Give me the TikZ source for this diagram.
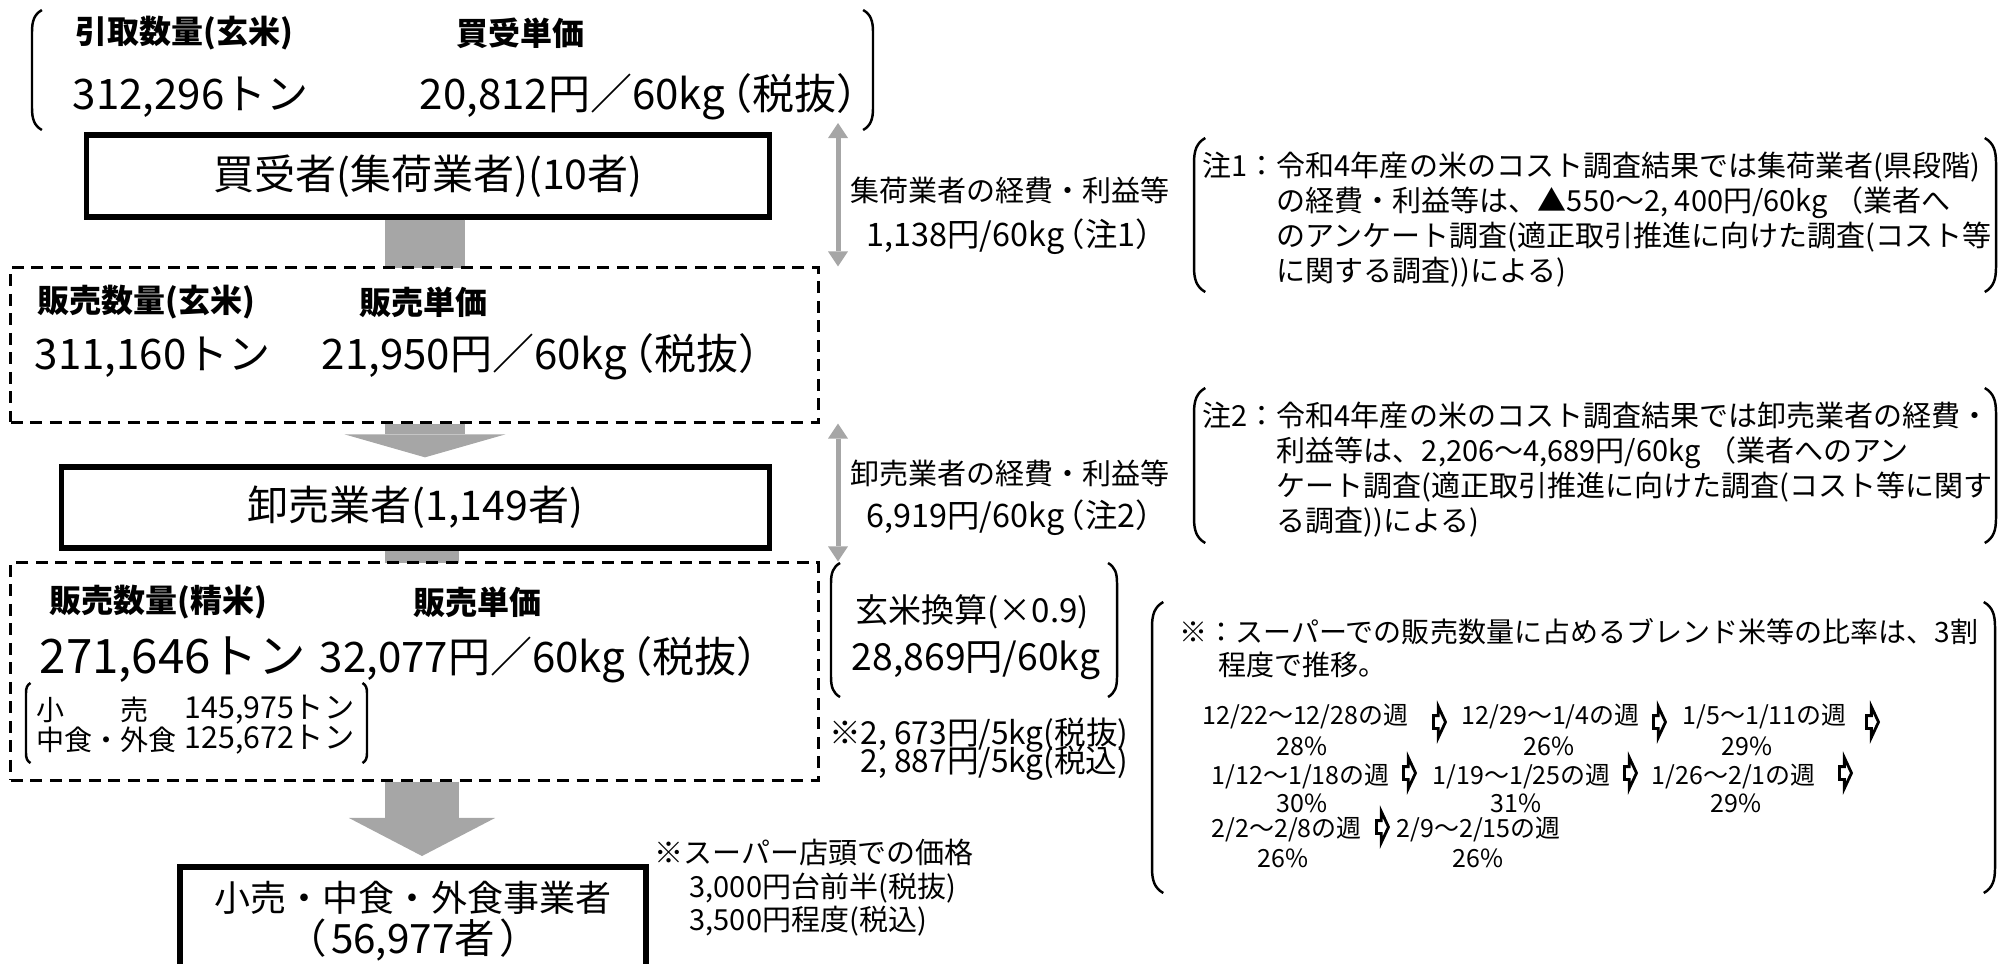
\documentclass[tikz,border=0pt]{standalone}
\usepackage{fontspec}
\setmainfont{Noto Sans CJK JP}
\usetikzlibrary{arrows.meta,shapes.arrows}

\definecolor{flowgray}{HTML}{A6A6A6}

% left and right round brackets: left, top, right, bottom, curl
\newcommand{\parenpair}[5]{%
  \draw[brkt] (#1+#5*0.45,#2) .. controls (#1+#5*0.1,#2+#5*0.2) and (#1,#2+#5*0.5) .. (#1,#2+#5)
    -- (#1,#4-#5) .. controls (#1,#4-#5*0.5) and (#1+#5*0.1,#4-#5*0.2) .. (#1+#5*0.45,#4);
  \draw[brkt] (#3-#5*0.45,#2) .. controls (#3-#5*0.1,#2+#5*0.2) and (#3,#2+#5*0.5) .. (#3,#2+#5)
    -- (#3,#4-#5) .. controls (#3,#4-#5*0.5) and (#3-#5*0.1,#4-#5*0.2) .. (#3-#5*0.45,#4);
}
% tight full width brackets
\newcommand{\tightpar}[1]{\kern-0.35em（#1）}

\tikzset{
  hdr/.style={anchor=west, inner sep=0pt, font=\bfseries\fontsize{9.1}{11}\selectfont},
  qty/.style={anchor=west, inner sep=0pt, font=\fontsize{11.95}{14}\selectfont},
  mainbox/.style={draw, line width=1.5pt, inner sep=0pt, font=\fontsize{11.66}{14}\selectfont},
  dashbox/.style={draw, fill=white, line width=0.85pt, dash pattern=on 0.12cm off 0.075cm, inner sep=0pt},
  side/.style={anchor=west, inner sep=0pt, font=\fontsize{8.25}{9.96}\selectfont},
  note/.style={side, align=left},
  inner/.style={inner sep=0pt, font=\fontsize{7.97}{9}\selectfont},
  week/.style={anchor=west, inner sep=0pt, font=\fontsize{7.11}{8.5}\selectfont},
  pct/.style={inner sep=0pt, font=\fontsize{7.11}{8.5}\selectfont},
  brkt/.style={line width=0.7pt},
  shaft/.style={draw=flowgray, line width=0.8cm},
  biarrow/.style={draw=flowgray, line width=0.05cm, >={Triangle[width=0.2cm,length=0.15cm,line width=0pt]}, <->},
  wkarrow/.style={single arrow, draw, fill=white, line width=0.8pt, inner xsep=0pt, inner ysep=0.05cm,
    minimum width=0.28cm, minimum height=0.12cm, single arrow head extend=0.09cm, single arrow tip angle=130}
}

\begin{document}
\begin{tikzpicture}[x=0.01cm, y=-0.01cm]
  \useasboundingbox (0,0) rectangle (2013,963);

  % purchase
  \parenpair{32}{10}{873}{130}{22}
  \node[hdr] (takeq) at (75,33) {引取数量(玄米)};
  \node[hdr] (takep) at (456,33) {買受単価};
  \node[qty] (takeqv) at (72,97) {312,296トン};
  \node[qty] (takepv) at (419,97) {20,812円／60kg\tightpar{税抜}};

  \node[mainbox, minimum width=6.82cm, minimum height=0.82cm] (buyer) at (428,176) {買受者(集荷業者)(10者)};

  % flow, drawn under the boxes
  \coordinate (fx) at (425,0);
  \coordinate (gx) at (422,0);
  \coordinate (cx) at (838,123);
  \draw[shaft] (fx |- buyer.south) -- (fx |- 0,268);
  \draw[shaft, line width=0.73cm] (gx |- 0,548) -- (gx |- 0,563);

  \node[dashbox, minimum width=8.07cm, minimum height=1.54cm] (sale1) at (414.5,345) {};
  \node[hdr] (sale1q) at (37,302) {販売数量(玄米)};
  \node[hdr] (sale1p) at (359,302) {販売単価};
  \node[qty] (sale1qv) at (34,357) {311,160トン};
  \node[qty] (sale1pv) at (321,357) {21,950円／60kg\tightpar{税抜}};

  \node[mainbox, minimum width=7.07cm, minimum height=0.81cm] (whole) at (415.5,507.5) {卸売業者(1,149者)};

  \node[dashbox, minimum width=8.07cm, minimum height=2.17cm] (sale2) at (414.5,671.5) {};
  \node[hdr] (sale2q) at (49,602) {販売数量(精米)};
  \node[hdr] (sale2p) at (413,602) {販売単価};
  \node[qty, font=\fontsize{13.5}{15}\selectfont] (sale2qv) at (39,660) {271,646トン};
  \node[qty] (sale2pv) at (319,660) {32,077円／60kg\tightpar{税抜}};
  \parenpair{26}{683}{367}{763}{10}
  \node[inner, anchor=west] (retq) at (36,710) {小　　売};
  \node[inner, anchor=east, font=\fontsize{8.6}{9}\selectfont] (retqv) at (355,710) {145,975トン};
  \node[inner, anchor=west] (foodq) at (36,740) {中食・外食};
  \node[inner, anchor=east, font=\fontsize{8.6}{9}\selectfont] (foodqv) at (355,740) {125,672トン};

  \node[draw, line width=1.7pt, inner sep=0pt, minimum width=4.66cm, minimum height=1.08cm, anchor=north,
    align=center, font=\fontsize{10.24}{11.95}\selectfont] (retail) at (413,864)
    {小売・中食・外食事業者\\{\fontsize{11.5}{11.95}\selectfont（\kern0.1em 56,977者\kern0.1em）}};

  \draw[shaft, -{Triangle[width=1.61cm,length=0.23cm,line width=0pt]}, shorten >=0.07cm]
    (fx |- sale1.south) -- (fx |- whole.north);
  \draw[shaft, line width=0.73cm, -{Triangle[width=1.46cm,length=0.38cm,line width=0pt]}, shorten >=0.08cm]
    (gx |- sale2.south) -- (gx |- retail.north);

  % margins
  \draw[biarrow] (cx) -- (cx |- sale1.north);
  \draw[biarrow] (cx |- sale1.south) -- (cx |- sale2.north);
  \node[side] (cost1) at (850,190) {集荷業者の経費・利益等};
  \node[side, font=\fontsize{9.2}{11}\selectfont] (cost1v) at (866,237) {1,138円/60kg\tightpar{注1}};
  \node[side] (cost2) at (850,473) {卸売業者の経費・利益等};
  \node[side, font=\fontsize{9.2}{11}\selectfont] (cost2v) at (866,518) {6,919円/60kg\tightpar{注2}};

  \parenpair{831}{563}{1117}{697}{20}
  \node[inner, font=\fontsize{9.4}{12}\selectfont] (brown) at (972,612) {玄米換算(×0.9)};
  \node[inner, font=\fontsize{10.6}{12}\selectfont] (brownv) at (976,660) {28,869円/60kg};
  \node[side, anchor=east, font=\fontsize{9}{11}\selectfont] (pkg1) at (1129,735) {※2, 673円/5kg(税抜)};
  \node[side, anchor=east, font=\fontsize{9}{11}\selectfont] (pkg2) at (1129,763) {2, 887円/5kg(税込)};

  \node[side] (shelf) at (654,852) {※スーパー店頭での価格};
  \node[side] (shelf1) at (689,888) {3,000円台前半(税抜)};
  \node[side] (shelf2) at (689,921) {3,500円程度(税込)};

  % notes
  \parenpair{1194}{138}{1996}{292}{25}
  \node[note] (note1) at (1202,220) {注1：令和4年産の米のコスト調査結果では集荷業者(県段階)\\
    \hphantom{注1：}の経費・利益等は、▲550～2, 400円/60kg （業者へ\\
    \hphantom{注1：}のアンケート調査(適正取引推進に向けた調査(コスト等\\
    \hphantom{注1：}に関する調査))による)};
  \parenpair{1194}{388}{1996}{543}{25}
  \node[note] (note2) at (1202,470) {注2：令和4年産の米のコスト調査結果では卸売業者の経費・\\
    \hphantom{注2：}利益等は、2,206～4,689円/60kg （業者へのアン\\
    \hphantom{注2：}ケート調査(適正取引推進に向けた調査(コスト等に関す\\
    \hphantom{注2：}る調査))による)};

  \parenpair{1152}{602}{1995}{893}{25}
  \node[side, font=\fontsize{7.97}{9.5}\selectfont] (blend) at (1179,632) {※：スーパーでの販売数量に占めるブレンド米等の比率は、3割};
  \node[side, font=\fontsize{7.97}{9.5}\selectfont] (blend2) at (1218,665) {程度で推移。};

  \node[week] (w1) at (1202,717) {12/22～12/28の週};
  \node[week] (w2) at (1461,717) {12/29～1/4の週};
  \node[week] (w3) at (1682,717) {1/5～1/11の週};
  \node[week] (w4) at (1211,777) {1/12～1/18の週};
  \node[week] (w5) at (1432,777) {1/19～1/25の週};
  \node[week] (w6) at (1651,777) {1/26～2/1の週};
  \node[week] (w7) at (1211,830) {2/2～2/8の週};
  \node[week] (w8) at (1396,830) {2/9～2/15の週};

  \node[wkarrow] (a1) at (1438,722) {};
  \node[wkarrow] (a2) at (1658,722) {};
  \node[wkarrow] (a3) at (1871,722) {};
  \node[wkarrow] (a4) at (1408,773) {};
  \node[wkarrow] (a5) at (1629,773) {};
  \node[wkarrow] (a6) at (1844,773) {};
  \node[wkarrow] (a7) at (1381,827) {};

  \node[pct] (p1) at (1302,746) {28\%};
  \node[pct] (p2) at (1549,746) {26\%};
  \node[pct] (p3) at (1747,746) {29\%};
  \node[pct] (p4) at (1302,803) {30\%};
  \node[pct] (p5) at (1516,803) {31\%};
  \node[pct] (p6) at (1736,803) {29\%};
  \node[pct] (p7) at (1283,858) {26\%};
  \node[pct] (p8) at (1478,858) {26\%};
\end{tikzpicture}
\end{document}
